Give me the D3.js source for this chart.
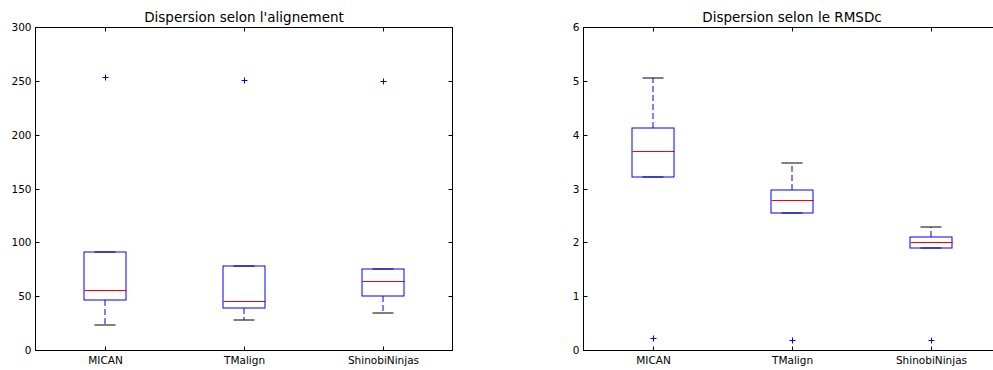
<!DOCTYPE html>
<html>
<head>
<meta charset="utf-8">
<script src="https://cdn.jsdelivr.net/npm/d3@7"></script>
<style>
body { margin: 0; background: #fff; }
text { font-family: "DejaVu Sans", sans-serif; }
</style>
</head>
<body>
<svg id="chart" width="993" height="370"></svg>
<script>
const categories = ["MICAN", "TMalign", "ShinobiNinjas"];

// Left panel: Dispersion selon l'alignement
const alignWhiskLow  = [23.2, 28.1, 34.4];
const alignQ1        = [46.1, 39.3, 50.4];
const alignMedian    = [55.4, 45.5, 63.8];
const alignQ3        = [90.7, 78.3, 75.5];
const alignWhiskHigh = [90.7, 78.3, 75.5];
const alignOutliers  = [[253.5], [250.8], [249.8]];
const alignTicks     = [0, 50, 100, 150, 200, 250, 300];

// Right panel: Dispersion selon le RMSDc
const rmsdWhiskLow  = [3.21, 2.54, 1.89];
const rmsdQ1        = [3.21, 2.54, 1.89];
const rmsdMedian    = [3.69, 2.78, 2.01];
const rmsdQ3        = [4.12, 2.97, 2.09];
const rmsdWhiskHigh = [5.05, 3.47, 2.28];
const rmsdOutliers  = [[0.22], [0.18], [0.18]];
const rmsdTicks     = [0, 1, 2, 3, 4, 5, 6];

const svg = d3.select("#chart");
const W = 417, H = 323, TOP = 27;

function panel(left, title, yMax, ticks, wl, q1, med, q3, wh, outl) {
  const g = svg.append("g").attr("transform", `translate(${left + 0.5},${TOP + 0.5})`);
  const m = svg.append("g").attr("transform", `translate(${left},${TOP})`);
  const xs = d3.scaleLinear().domain([0.5, 3.5]).range([0, W]);
  const ys = d3.scaleLinear().domain([0, yMax]).range([H, 0]);
  const x = v => Math.round(xs(v));
  const y = v => Math.round(ys(v));
  const boxW = Math.round(xs(0.3) - xs(0));
  const capW = Math.round(xs(0.15) - xs(0));

  // ticks (inward, all four sides)
  const tl = 4;
  ticks.forEach(t => {
    g.append("line").attr("x1", 0).attr("x2", tl).attr("y1", y(t)).attr("y2", y(t))
      .attr("stroke", "#000").attr("stroke-width", 1);
    g.append("line").attr("x1", W).attr("x2", W - tl).attr("y1", y(t)).attr("y2", y(t))
      .attr("stroke", "#000").attr("stroke-width", 1);
    g.append("text").attr("x", -4).attr("y", y(t)).attr("dy", "0.36em")
      .attr("text-anchor", "end").attr("font-size", 10.5).text(t);
  });
  categories.forEach((c, i) => {
    const cx = x(i + 1);
    g.append("line").attr("x1", cx).attr("x2", cx).attr("y1", H).attr("y2", H - tl)
      .attr("stroke", "#000").attr("stroke-width", 1);
    g.append("line").attr("x1", cx).attr("x2", cx).attr("y1", 0).attr("y2", tl)
      .attr("stroke", "#000").attr("stroke-width", 1);
    g.append("text").attr("x", cx).attr("y", H + 13)
      .attr("text-anchor", "middle").attr("font-size", 10.5).text(c);
  });

  // boxes (drawn on pixel edges, like the antialiased reference)
  categories.forEach((c, i) => {
    const cx = x(i + 1);
    // whiskers
    m.append("line").attr("x1", cx).attr("x2", cx).attr("y1", y(q3[i])).attr("y2", y(wh[i]))
      .attr("stroke", "#0000ff").attr("stroke-dasharray", "6,3").attr("stroke-width", 1);
    m.append("line").attr("x1", cx).attr("x2", cx).attr("y1", y(q1[i])).attr("y2", y(wl[i]))
      .attr("stroke", "#0000ff").attr("stroke-dasharray", "6,3").attr("stroke-width", 1);
    // caps
    [wl[i], wh[i]].forEach(v => {
      m.append("line").attr("x1", cx - capW / 2).attr("x2", cx + capW / 2)
        .attr("y1", y(v)).attr("y2", y(v)).attr("stroke", "#000").attr("stroke-width", 1);
    });
    // box
    m.append("rect").attr("x", cx - boxW / 2).attr("width", boxW)
      .attr("y", y(q3[i])).attr("height", y(q1[i]) - y(q3[i]))
      .attr("fill", "none").attr("stroke", "#0000ff").attr("stroke-width", 1);
    // median
    g.append("line").attr("x1", cx - boxW / 2).attr("x2", cx + boxW / 2)
      .attr("y1", y(med[i])).attr("y2", y(med[i])).attr("stroke", "#ff0000").attr("stroke-width", 1);
    // outliers
    outl[i].forEach(v => {
      const py = y(v), s = 3;
      g.append("line").attr("x1", cx - s).attr("x2", cx + s).attr("y1", py).attr("y2", py)
        .attr("stroke", "#0000ff").attr("stroke-width", 1);
      g.append("line").attr("x1", cx).attr("x2", cx).attr("y1", py - s).attr("y2", py + s)
        .attr("stroke", "#0000ff").attr("stroke-width", 1);
    });
  });

  // frame
  g.append("rect").attr("x", 0).attr("y", 0).attr("width", W).attr("height", H)
    .attr("fill", "none").attr("stroke", "#000").attr("stroke-width", 1);

  g.append("text").attr("x", W / 2).attr("y", -6).attr("text-anchor", "middle")
    .attr("font-size", 13.5).text(title);
}

panel(35, "Dispersion selon l'alignement", 300, alignTicks,
      alignWhiskLow, alignQ1, alignMedian, alignQ3, alignWhiskHigh, alignOutliers);
panel(583, "Dispersion selon le RMSDc", 6, rmsdTicks,
      rmsdWhiskLow, rmsdQ1, rmsdMedian, rmsdQ3, rmsdWhiskHigh, rmsdOutliers);
</script>
</body>
</html>
